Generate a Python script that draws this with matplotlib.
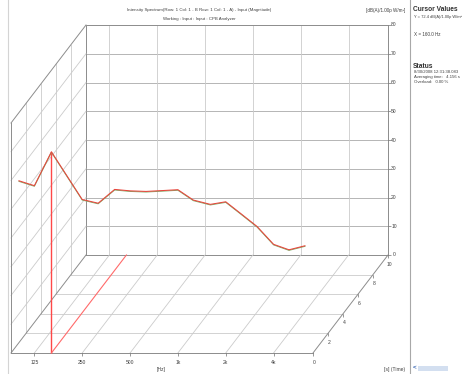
import matplotlib
matplotlib.use("Agg")
import matplotlib.pyplot as plt
from matplotlib.transforms import Affine2D, IdentityTransform

# 1/3-octave bands and the level of the latest spectrum (front slice, t = 0)
bands = [100, 125, 160, 200, 250, 315, 400, 500, 630, 800, 1000,
         1250, 1600, 2000, 2500, 3150, 4000, 5000, 6300]
levels = [59.9, 58.2, 70.0, 61.7, 53.4, 52.1, 56.9, 56.4, 56.2, 56.5, 56.8,
          53.2, 51.7, 52.6, 48.4, 44.0, 37.8, 35.9, 37.3]

freq_ticks = [125, 250, 500, 1000, 2000, 4000]
freq_labels = ["125", "250", "500", "1k", "2k", "4k"]
db_ticks = [0, 10, 20, 30, 40, 50, 60, 70, 80]
time_ticks = [0, 2, 4, 6, 8, 10]
cursor_freq = 160

F_LO, F_HI = 89.1, 7080.0
T_MAX = 10
DX, DY = 7.5, 9.8          # pixel shift per second of depth

W, H = 467, 374
fig = plt.figure(figsize=(W / 100, H / 100), dpi=100)
fig.patch.set_facecolor("white")

# front plane of the waterfall
ax = fig.add_axes([11 / W, 21 / H, 302 / W, 230 / H])
ax.set_xscale("log")
ax.set_xlim(F_LO, F_HI)
ax.set_ylim(0, 80)
ax.axis("off")


def T(t):
    return ax.transData + Affine2D().translate(DX * t, DY * t)


def depth_line(f, db, t0, t1, **kw):
    p0 = T(t0).transform((f, db))
    p1 = T(t1).transform((f, db))
    ax.plot([p0[0], p1[0]], [p0[1], p1[1]], transform=IdentityTransform(),
            clip_on=False, **kw)


grid = dict(color="#cbcbcb", lw=0.6)
edge = dict(color="#8c8c8c", lw=0.7)
txt = dict(fontsize=3.6, color="#404040", family="Liberation Sans")

# back plane
for db in db_ticks[1:-1]:
    ax.plot([F_LO, F_HI], [db, db], transform=T(T_MAX), clip_on=False, color="#a9a9a9", lw=0.6)
for f in freq_ticks:
    ax.plot([f, f], [0, 80], transform=T(T_MAX), clip_on=False, **grid)
ax.plot([F_LO, F_HI, F_HI, F_LO, F_LO], [0, 0, 80, 80, 0], transform=T(T_MAX), clip_on=False, **edge)

# floor
for t in time_ticks[1:-1]:
    ax.plot([F_LO, F_HI], [0, 0], transform=T(t), clip_on=False, **grid)
for f in freq_ticks:
    depth_line(f, 0, 0, T_MAX, **grid)
ax.plot([F_LO, F_HI], [0, 0], clip_on=False, **edge)
depth_line(F_HI, 0, 0, T_MAX, **edge)

# left wall
for t in time_ticks[1:-1]:
    ax.plot([F_LO, F_LO], [0, 80], transform=T(t), clip_on=False, **grid)
for db in db_ticks[1:-1]:
    depth_line(F_LO, db, 0, T_MAX, **grid)
depth_line(F_LO, 0, 0, T_MAX, **edge)
depth_line(F_LO, 80, 0, T_MAX, **edge)
ax.plot([F_LO, F_LO], [0, 80], clip_on=False, **edge)

# ticks and labels
ax.plot(freq_ticks, [0] * len(freq_ticks), ls="none", marker=3, ms=2.5, mew=0.5, color="#707070", clip_on=False)
for f, lbl in zip(freq_ticks, freq_labels):
    ax.annotate(lbl, (f, 0), xytext=(0, -9), textcoords="offset pixels",
                ha="center", va="center", **txt)
ax.plot([F_HI] * len(db_ticks), db_ticks, ls="none", marker=1, ms=2.5, mew=0.5,
        color="#707070", transform=T(T_MAX), clip_on=False)
for db in db_ticks:
    ax.annotate(str(db), (F_HI, db), xycoords=T(T_MAX), xytext=(6, 0),
                textcoords="offset pixels", ha="center", va="center", **txt)
for t in time_ticks:
    ax.plot([F_HI], [0], ls="none", marker=3, ms=2.5, mew=0.5, color="#707070",
            transform=T(t), clip_on=False)
    ax.annotate(str(t), (F_HI, 0), xycoords=T(t), xytext=(1, -9),
                textcoords="offset pixels", ha="center", va="center", **txt)

# cursor and spectrum
cursor_level = levels[bands.index(cursor_freq)]
ax.plot([cursor_freq, cursor_freq], [0, cursor_level], color="#ff4848", lw=1.0,
        clip_on=False, zorder=3, snap=True, solid_capstyle="butt")
depth_line(cursor_freq, 0, 0, T_MAX, color="#ff6a6a", lw=0.8, zorder=3)
ax.plot(bands, levels, color="#7fae6a", lw=0.7, clip_on=False, zorder=3,
        transform=ax.transData + Affine2D().translate(0, -0.6))
ax.plot(bands, levels, color="#e8453c", lw=0.75, clip_on=False, zorder=4)

# overlay for the window furniture, in pixels
ov = fig.add_axes([0, 0, 1, 1])
ov.set_xlim(0, W)
ov.set_ylim(H, 0)
ov.axis("off")
ov.patch.set_alpha(0)
ov.plot([8, 8], [0, H], color="#d4d4d4", lw=0.8)
ov.plot([410, 410], [0, H], color="#a8a8a8", lw=0.8)

ov.text(199, 10, "Intensity Spectrum(Row: 1 Col: 1 - B Row: 1 Col: 1 - A) - Input (Magnitude)",
        ha="center", va="center", fontsize=3.2, color="#404040", family="Liberation Sans")
ov.text(199, 19, "Working : Input : Input : CPB Analyzer",
        ha="center", va="center", fontsize=3.2, color="#404040", family="Liberation Sans")
ov.text(405, 10, "[dB(A)/1.00p W/m²]", ha="right", va="center", fontsize=3.3,
        color="#404040", family="Liberation Sans")
ov.text(161, 369, "[Hz]", ha="center", va="center", **txt)
ov.text(405, 369, "[s] (Time)", ha="right", va="center", **txt)

ov.text(413, 9, "Cursor Values", ha="left", va="center", fontsize=4.8,
        fontweight="bold", color="#303030", family="Liberation Sans")
ov.text(414, 17, "Y = 72.4 dB(A)/1.00p W/m²", ha="left", va="center", fontsize=2.9,
        color="#404040", family="Liberation Sans")
ov.text(414, 34, "X = 160.0 Hz", ha="left", va="center", fontsize=3.3,
        color="#404040", family="Liberation Sans")
ov.text(413, 66, "Status", ha="left", va="center", fontsize=4.8,
        fontweight="bold", color="#303030", family="Liberation Sans")
ov.text(414, 72, "8/30/2008 12:31:38.083", ha="left", va="center", fontsize=3.1,
        color="#404040", family="Liberation Sans")
ov.text(414, 77, "Averaging time:   4.156 s", ha="left", va="center", fontsize=3.1,
        color="#404040", family="Liberation Sans")
ov.text(414, 82, "Overload:   0.00 %", ha="left", va="center", fontsize=3.1,
        color="#404040", family="Liberation Sans")

ov.text(413, 368, "<", ha="left", va="center", fontsize=4.5, color="#3060b0",
        fontweight="bold", family="Liberation Sans")
ov.add_patch(plt.Rectangle((418, 365.5), 30, 5, color="#d3dff0", lw=0))

fig.savefig("out.png", dpi=100, facecolor="white")
